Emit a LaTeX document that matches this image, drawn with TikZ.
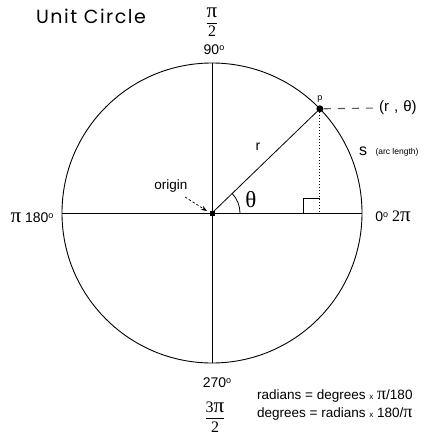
\documentclass[tikz,border=0pt]{standalone}
\usepackage{fontspec}
\setmainfont{Liberation Sans}
\newfontfamily\seriffont{Liberation Serif}
\newfontfamily\titlefont[LetterSpace=8]{Poppins}
\usetikzlibrary{arrows.meta}
\tikzset{
  lbl/.style={inner sep=0pt, font=\fontsize{14}{16}\selectfont},
  frac/.style={inner sep=0pt, font=\seriffont\fontsize{15}{17}\selectfont},
  axis/.style={line width=0.8pt},
}
\newcommand{\mydeg}{\raisebox{0.55ex}{\fontsize{9}{9}\selectfont o}}
\newcommand{\bigpi}[1]{{\seriffont\fontsize{#1}{#1}\selectfont π}}
\begin{document}
\begin{tikzpicture}[x=1pt,y=1pt]
\useasboundingbox (0,0) rectangle (425,-437);
\coordinate (O) at (212,-213);
\node[draw, circle, minimum size=300pt, inner sep=0pt, outer sep=0pt, line width=0.9pt] (C) at (O) {};
\draw[axis] (C.west) -- (C.east);
\draw[axis] (C.north) -- (C.south);
\coordinate (P) at (C.44);
\coordinate (F) at (P |- O);
% radius
\draw[axis] (O) -- (P);
% dotted drop
\draw[line width=0.9pt, dash pattern=on 1.5pt off 1.5pt] (P) -- (F);
% right angle box
\draw[line width=0.6pt] ([xshift=-17pt]F) -- ++(0,15) -- ([yshift=15pt]F);
% angle arc
\draw[line width=0.8pt] ([xshift=28pt]O) arc[start angle=0, end angle=44, radius=28pt];
% origin marker
\fill (O) ++(-2.5,-2.5) rectangle ++(5,5);
% point p
\fill (P) circle[radius=3.5pt];
\node[lbl, font=\fontsize{9}{10}\selectfont, anchor=south] (plab) at ([yshift=6pt]P) {p};
% dashed to (r,theta)
\node[lbl, font=\fontsize{15}{17}\selectfont, anchor=west] (rt) at (379,-108) {(r\,\,,\,\,θ)};
\draw[gray!70!black, line width=1.1pt, dash pattern=on 7pt off 7pt, dash phase=-4pt] (P) -- (rt.west);
% labels
\node[lbl] (rlab) at (258,-147) {r};
\node[lbl, font=\fontsize{16}{18}\selectfont] (slab) at (363,-151) {s};
\node[inner sep=0pt, font=\fontsize{8.5}{10}\selectfont] (arclab) at (397,-152) {(arc length)};
\node[inner sep=0pt, font=\seriffont\fontsize{23}{26}\selectfont] (thlab) at (251,-200) {θ};
\node[lbl, font=\fontsize{13.5}{15}\selectfont] (orig) at (171,-186) {origin};
\draw[-{Stealth[length=6pt,width=4.5pt]}, line width=0.7pt, dash pattern=on 2.5pt off 2pt] (185,-197) -- (207,-211);
% title
\node[inner sep=0pt, font=\titlefont\fontsize{19}{22}\selectfont] (title) at (91,-16) {Unit Circle};
% top
\node[frac] (top) at (212,-22) {$\displaystyle\frac{\hbox{\bigpi{21}}}{\hbox{\seriffont\fontsize{16}{17}\selectfont 2}}$};
\node[lbl] (d90) at (214,-50) {90\mydeg};
% left
\node[lbl] (left) at (32,-218) {\bigpi{21} 180\mydeg};
% right
\node[lbl] (right) at (393,-216) {0\mydeg\ {\seriffont\fontsize{16}{18}\selectfont 2}\bigpi{21}};
% bottom
\node[lbl] (d270) at (217,-383) {270\mydeg};
\node[frac] (bot) at (215,-417) {$\displaystyle\frac{\hbox{\seriffont\fontsize{16}{17}\selectfont 3\bigpi{21}}}{\hbox{\seriffont\fontsize{16}{17}\selectfont 2}}$};
% formulas
\node[inner sep=0pt, anchor=west, font=\fontsize{13.5}{15}\selectfont] (f1) at (257,-396) {radians = degrees {\fontsize{8}{9}\selectfont x} \bigpi{18}/180};
\node[inner sep=0pt, anchor=west, font=\fontsize{13.5}{15}\selectfont] (f2) at (257,-414) {degrees = radians {\fontsize{8}{9}\selectfont x} 180/\bigpi{18}};
\end{tikzpicture}
\end{document}
